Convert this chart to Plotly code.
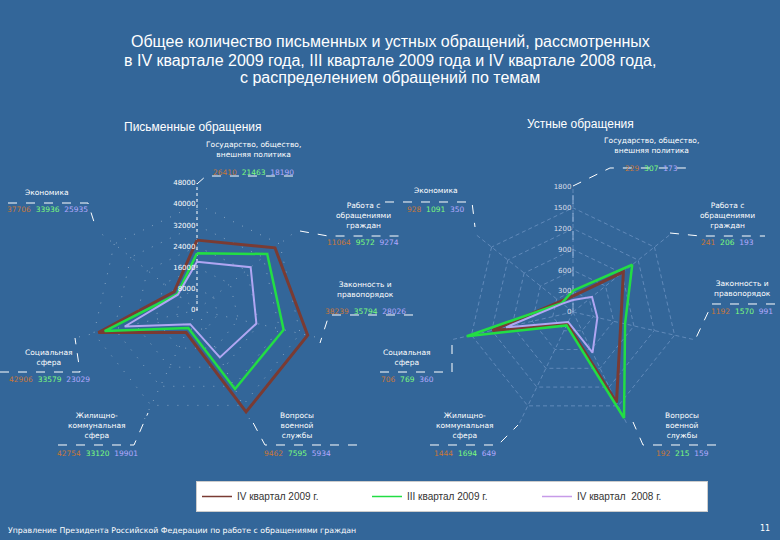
import plotly.graph_objects as go

# ---------------- data ----------------
categories = [
    "Государство, общество, внешняя политика",
    "Экономика",
    "Социальная сфера",
    "Жилищно-коммунальная сфера",
    "Вопросы военной службы",
    "Законность и правопорядок",
    "Работа с обращениями граждан",
]
category_labels = [
    "Государство, общество,<br>внешняя политика",
    "Экономика",
    "Социальная<br>сфера",
    "Жилищно-<br>коммунальная<br>сфера",
    "Вопросы<br>военной<br>службы",
    "Законность и<br>правопорядок",
    "Работа с<br>обращениями<br>граждан",
]
series_names = ["IV квартал 2009 г.", "III квартал 2009 г.", "IV квартал  2008 г."]

written_q4_2009 = [26410, 37706, 42906, 42754, 9462, 38239, 11064]
written_q3_2009 = [21463, 33936, 33579, 33120, 7595, 35794, 9572]
written_q4_2008 = [18190, 25935, 23029, 19901, 5934, 28026, 9274]

oral_q4_2009 = [229, 928, 706, 1444, 192, 1192, 241]
oral_q3_2009 = [307, 1091, 769, 1694, 215, 1570, 206]
oral_q4_2008 = [173, 350, 360, 649, 159, 991, 193]

written_ticks = [0, 8000, 16000, 24000, 32000, 40000, 48000]
oral_ticks = [0, 300, 600, 900, 1200, 1500, 1800]

title_lines = [
    "Общее количество письменных и устных обращений, рассмотренных",
    "в IV квартале 2009 года, III квартале 2009 года и IV квартале 2008 года,",
    "с распределением обращений по темам",
]

# ---------------- styles ----------------
W, H = 780, 540
BG = "#336699"
line_colors = ["#7a3b33", "#22dd44", "#b0a6f2"]
legend_colors = ["#7a3b33", "#22dd44", "#c79be8"]
line_widths = [3, 2.5, 2]
value_colors = ["#c8773a", "#7cfc7c", "#b3a9ff"]


def px(x, y):
    return x / W, 1 - y / H


def closed(v):
    return list(v) + [v[0]]


fig = go.Figure()

written = [written_q4_2009, written_q3_2009, written_q4_2008]
oral = [oral_q4_2009, oral_q3_2009, oral_q4_2008]
theta = closed(categories)

# dashed radial axis lines
fig.add_trace(go.Scatterpolar(r=[0, written_ticks[-1]], theta=[categories[0]] * 2,
                              mode="lines", line=dict(color="white", width=1, dash="dot"),
                              subplot="polar", showlegend=False, hoverinfo="skip"))
fig.add_trace(go.Scatterpolar(r=[0, oral_ticks[-1]], theta=[categories[0]] * 2,
                              mode="lines", line=dict(color="rgba(170,195,230,0.8)", width=1, dash="dash"),
                              subplot="polar2", showlegend=False, hoverinfo="skip"))

for i, (name, vals) in enumerate(zip(series_names, written)):
    fig.add_trace(go.Scatterpolar(
        r=closed(vals), theta=theta, mode="lines", name=name,
        line=dict(color=line_colors[i], width=line_widths[i]),
        subplot="polar", showlegend=False, hoverinfo="skip"))
for i, (name, vals) in enumerate(zip(series_names, oral)):
    fig.add_trace(go.Scatterpolar(
        r=closed(vals), theta=theta, mode="lines", name=name,
        line=dict(color=line_colors[i], width=line_widths[i]),
        subplot="polar2", showlegend=False, hoverinfo="skip"))

# legend-only traces (legend sample colours)
for i, name in enumerate(series_names):
    fig.add_trace(go.Scatterpolar(
        r=[None], theta=[categories[0]], mode="lines", name=name,
        line=dict(color=legend_colors[i], width=1.5),
        subplot="polar", showlegend=True))


def polar_layout(domx, domy, ticks, gridcolor, griddash, tickcolor):
    return dict(
        domain=dict(x=list(domx), y=list(domy)),
        bgcolor="rgba(0,0,0,0)",
        gridshape="linear",
        radialaxis=dict(
            range=[0, ticks[-1]], tickvals=ticks, ticktext=[str(t) for t in ticks],
            angle=90, tickangle=90, side="counterclockwise",
            showline=False, ticks="",
            gridcolor=gridcolor, griddash=griddash,
            tickfont=dict(size=7, color=tickcolor, family="DejaVu Sans"),
        ),
        angularaxis=dict(
            direction="clockwise", rotation=90, showticklabels=False, ticks="",
            showline=False, gridcolor=gridcolor, griddash=griddash,
        ),
    )


# left: center (197,310), r=127 ; right: center (573,312), r=125
lcx, lcy, lr = 197, 310, 127
rcx, rcy, rr = 573, 312, 125
fig.update_layout(
    polar=polar_layout(((lcx - lr) / W, (lcx + lr) / W),
                       ((H - lcy - lr) / H, (H - lcy + lr) / H),
                       written_ticks, "rgba(255,255,255,0.4)", "1px,9px", "white"),
    polar2=polar_layout(((rcx - rr) / W, (rcx + rr) / W),
                        ((H - rcy - rr) / H, (H - rcy + rr) / H),
                        oral_ticks, "rgba(150,180,225,0.45)", "4px,3px", "#d8dde8"),
)

annotations = []
shapes = []


def add_text(x, y, text, size=8, color="white", family="DejaVu Sans", xanchor="center", yanchor="middle"):
    ax, ay = px(x, y)
    annotations.append(dict(x=ax, y=ay, xref="paper", yref="paper", text=text, showarrow=False,
                            font=dict(size=size, color=color, family=family),
                            xanchor=xanchor, yanchor=yanchor))


def add_path(points, dash="dash"):
    path = "M " + " L ".join(f"{px(x, y)[0]:.5f},{px(x, y)[1]:.5f}" for x, y in points)
    shapes.append(dict(type="path", path=path, xref="paper", yref="paper",
                       line=dict(color="white", width=1, dash=dash)))


def values_text(vals):
    return "&nbsp;&nbsp;".join(f"<span style='color:{c}'>{v}</span>" for v, c in zip(vals, value_colors))


# title
for k, line in enumerate(title_lines):
    add_text(390, 42 + 18 * k, line, size=16, family="Liberation Sans")
add_text(193, 127, "Письменные обращения", size=12, family="Liberation Sans")
add_text(580, 124, "Устные обращения", size=12, family="Liberation Sans")

# label positions in categories order: (center x, bottom of label text, values y)
left_pos = [(253, 161, 172), (47, 199, 209), (49, 369, 379), (97, 442, 453),
            (297, 442, 453), (365, 301, 311), (363, 232, 243)]
right_pos = [(651, 157, 168), (436, 197, 209), (407, 369, 379), (465, 442, 453),
             (682, 442, 453), (742, 300, 311), (727, 232, 243)]

for j in range(len(categories)):
    for pos, data in ((left_pos[j], written), (right_pos[j], oral)):
        cx, lb, vy = pos
        add_text(cx, lb, category_labels[j], size=7.5, yanchor="bottom")
        add_text(cx, vy, values_text([d[j] for d in data]), size=7.5)

# leader lines (decorative)
left_leaders = [
    [(197, 184), (206, 176), (296, 176)],
    [(8, 203), (88, 203), (95, 225)],
    [(300, 231), (328, 236), (400, 236)],
    [(0, 372), (80, 372), (75, 338)],
    [(58, 445), (134, 445), (148, 413)],
    [(357, 445), (265, 445), (250, 417)],
    [(413, 315), (329, 315), (320, 343)],
]
right_leaders = [
    [(573, 186), (610, 168), (692, 168)],
    [(385, 202), (472, 202), (475, 227)],
    [(380, 372), (452, 372), (452, 345)],
    [(430, 445), (498, 445), (518, 425)],
    [(716, 445), (643, 445), (633, 422)],
    [(775, 304), (712, 304), (695, 340)],
    [(670, 233), (700, 236), (765, 236)],
]
for pts in left_leaders + right_leaders:
    add_path(pts)

# footer
add_text(6, 530, "Управление Президента Российской Федерации по работе с обращениями граждан",
         size=7.8, xanchor="left")
add_text(765, 528, "11", size=8)

fig.update_layout(
    width=W, height=H,
    margin=dict(l=0, r=0, t=0, b=0),
    paper_bgcolor=BG, plot_bgcolor=BG,
    annotations=annotations, shapes=shapes,
    showlegend=True,
    legend=dict(orientation="h", x=196 / W, y=1 - 481 / H, xanchor="left", yanchor="top",
                bgcolor="white", bordercolor="#cccccc", borderwidth=1,
                font=dict(size=10, color="#333333", family="Liberation Sans"),
                entrywidth=125, itemwidth=30, tracegroupgap=0),
)

fig.write_html("out.html", config={"displayModeBar": False},
               post_script="document.body.style.margin='0';")
